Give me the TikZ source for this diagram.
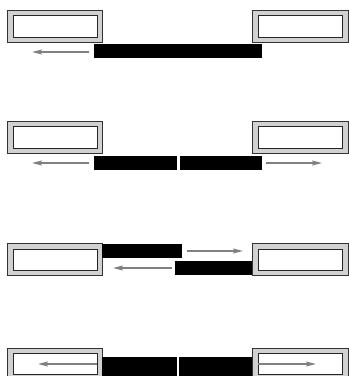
\documentclass[tikz,border=0pt]{standalone}
\usetikzlibrary{arrows.meta}
\begin{document}
\begin{tikzpicture}[x=1pt,y=-1pt,
  outerbox/.style={draw=black!80,fill=black!18,line width=1pt},
  innerbox/.style={draw=black!85,fill=white,line width=1pt},
  bar/.style={fill=black},
  garrow/.style={draw=black!50,line width=1.6pt,-{Stealth[length=10pt,width=5pt,inset=2pt]}}]
\useasboundingbox (0,0) rectangle (349,376);
\clip (0,0) rectangle (349,376);
% Row 1
\draw[outerbox] (7,10) rectangle (102,42);
\draw[innerbox] (13,15) rectangle (97,37);
\draw[outerbox] (252,10) rectangle (348,42);
\draw[innerbox] (258,15) rectangle (342,37);
\fill[bar] (94,44) rectangle (262,58);
\coordinate (a1s) at (89,52); \coordinate (a1e) at (32,52);
\draw[garrow] (a1s) -- (a1e);
% Row 2
\draw[outerbox] (7,121) rectangle (102,153);
\draw[innerbox] (13,126) rectangle (97,148);
\draw[outerbox] (252,121) rectangle (348,153);
\draw[innerbox] (258,126) rectangle (342,148);
\fill[bar] (94,156) rectangle (177,170);
\fill[bar] (180,156) rectangle (262,170);
\coordinate (a2s) at (89,163); \coordinate (a2e) at (32,163);
\coordinate (a3s) at (266,163); \coordinate (a3e) at (322,163);
\draw[garrow] (a2s) -- (a2e);
\draw[garrow] (a3s) -- (a3e);
% Row 3
\draw[outerbox] (7,243) rectangle (102,275);
\draw[innerbox] (13,249) rectangle (97,270);
\draw[outerbox] (252,243) rectangle (348,275);
\draw[innerbox] (258,249) rectangle (342,270);
\fill[bar] (102,244) rectangle (182,258);
\fill[bar] (175,261) rectangle (252,275);
\coordinate (a4s) at (187,251); \coordinate (a4e) at (243,251);
\coordinate (a5s) at (172,268); \coordinate (a5e) at (113,268);
\draw[garrow] (a4s) -- (a4e);
\draw[garrow] (a5s) -- (a5e);
% Row 4
\draw[outerbox] (7,348) rectangle (102,382);
\draw[innerbox] (13,353) rectangle (97,374);
\draw[outerbox] (252,348) rectangle (348,382);
\draw[innerbox] (258,353) rectangle (342,374);
\fill[bar] (102,357) rectangle (177,380);
\fill[bar] (179,357) rectangle (252,380);
\coordinate (a6s) at (97,364); \coordinate (a6e) at (38,364);
\coordinate (a7s) at (258,364); \coordinate (a7e) at (316,364);
\draw[garrow] (a6s) -- (a6e);
\draw[garrow] (a7s) -- (a7e);
\end{tikzpicture}
\end{document}
